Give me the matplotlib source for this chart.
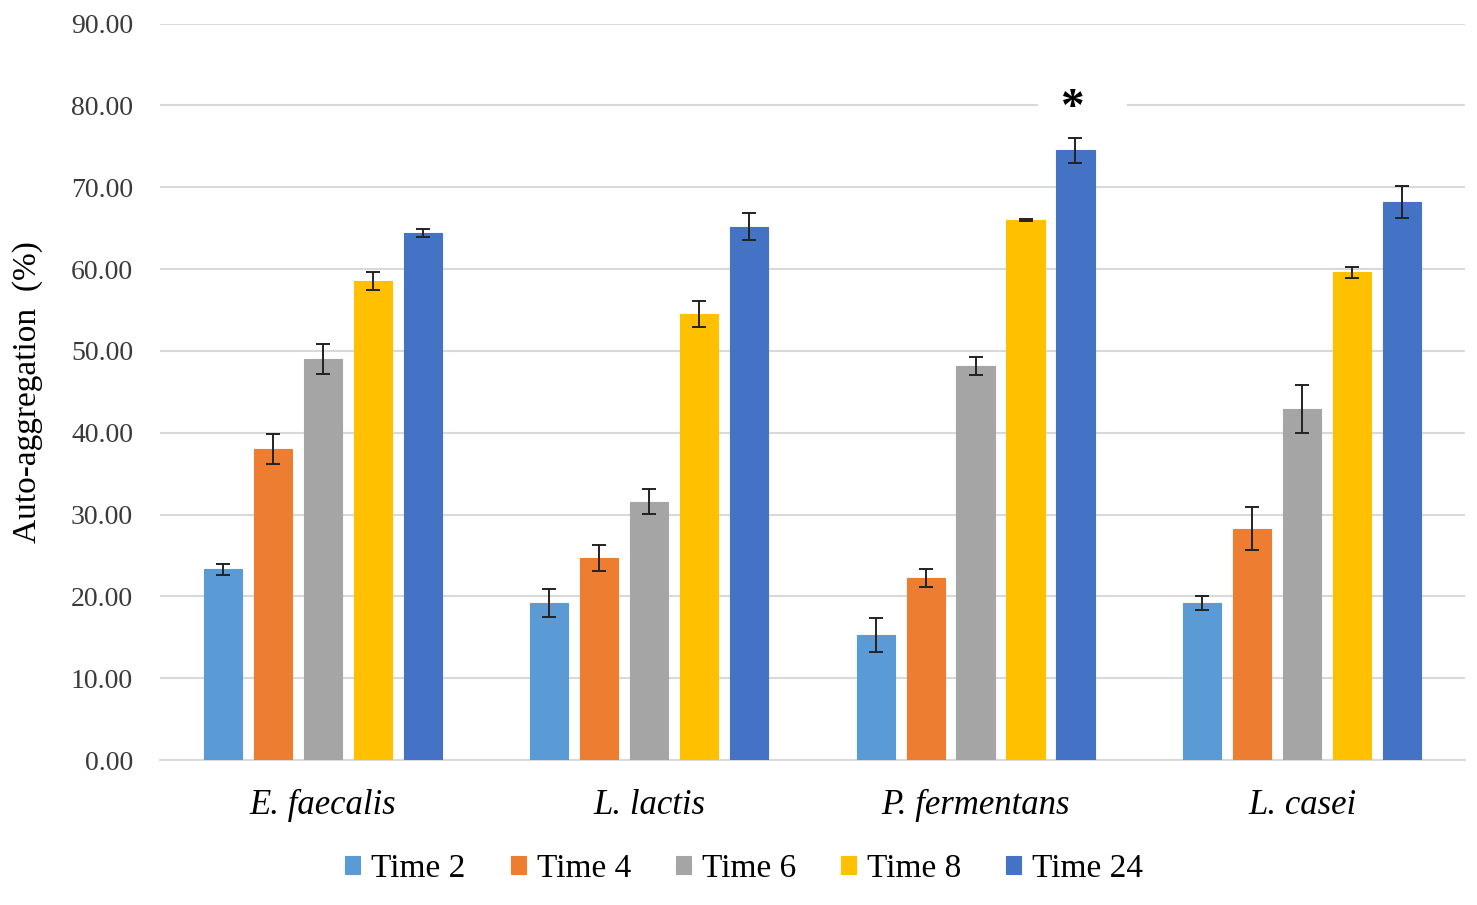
import matplotlib.pyplot as plt
import numpy as np

# dane
gatunki = ["E. faecalis", "L. lactis", "P. fermentans", "L. casei"]
serie = ["Time 2", "Time 4", "Time 6", "Time 8", "Time 24"]
t2 = [23.3, 19.2, 15.3, 19.2]
t4 = [38.0, 24.7, 22.2, 28.3]
t6 = [49.0, 31.6, 48.1, 42.9]
t8 = [58.6, 54.5, 66.0, 59.6]
t24 = [64.4, 65.2, 74.5, 68.2]
e2 = [0.7, 1.7, 2.1, 0.9]
e4 = [1.8, 1.55, 1.1, 2.6]
e6 = [1.8, 1.5, 1.1, 2.9]
e8 = [1.1, 1.55, 0.1, 0.7]
e24 = [0.5, 1.6, 1.5, 1.95]
kolory = ["#5B9BD5", "#ED7D31", "#A5A5A5", "#FFC000", "#4472C4"]

wartosci = [t2, t4, t6, t8, t24]
bledy = [e2, e4, e6, e8, e24]

plt.rcParams["font.family"] = ["Liberation Serif", "DejaVu Serif"]

fig = plt.figure(figsize=(14.77, 9.05), dpi=100)
ax = fig.add_axes([0.108, 0.16, 0.884, 0.814])

x = np.arange(len(gatunki))
krok = 0.153
szer = 0.117
for i in range(len(serie)):
    poz = x + (i - 2) * krok
    ax.bar(poz, wartosci[i], szer, color=kolory[i], label=serie[i], zorder=3,
           edgecolor=kolory[i], linewidth=0.8)
    ax.errorbar(poz, wartosci[i], yerr=bledy[i], fmt="none", ecolor="#222222",
                elinewidth=1.4, capsize=5, capthick=1.4, zorder=4)

ax.set_ylim(0, 90)
ax.set_xlim(-0.5, 3.5)
ax.set_yticks(np.arange(0, 91, 10))
ax.set_yticklabels(["%.2f" % v for v in np.arange(0, 91, 10)], fontsize=20)
ax.yaxis.grid(True, color="#D9D9D9", linewidth=1.5, zorder=0)
ax.set_axisbelow(True)
for s in ["top", "right", "left"]:
    ax.spines[s].set_visible(False)
ax.spines["bottom"].set_color("#D9D9D9")
ax.spines["bottom"].set_linewidth(1.5)
ax.tick_params(axis="both", length=0)
ax.tick_params(axis="y", colors="#3A3A3A", pad=19)

ax.set_xticks(x)
ax.set_xticklabels(gatunki, fontsize=25, style="italic")
ax.tick_params(axis="x", pad=21)
ax.set_ylabel("Auto-aggregation  (%)", fontsize=24, labelpad=20)

# gwiazdka nad P. fermentans, Time 24 (biala przerwa w linii siatki)
xs = x[2] + 2 * krok
ax.plot([xs - 0.105, xs + 0.15], [80, 80], color="white", linewidth=4, zorder=1)
ax.text(xs - 0.01, 79.6, "*", fontsize=34, fontweight="bold", ha="center",
        va="center", zorder=5)

leg = fig.legend(*ax.get_legend_handles_labels(), loc="center",
                 bbox_to_anchor=(0.504, 0.04), ncol=5, frameon=False,
                 fontsize=24, handlelength=0.45, handleheight=0.45, handletextpad=0.33,
                 columnspacing=1.35)

plt.savefig("out.png", dpi=100)
